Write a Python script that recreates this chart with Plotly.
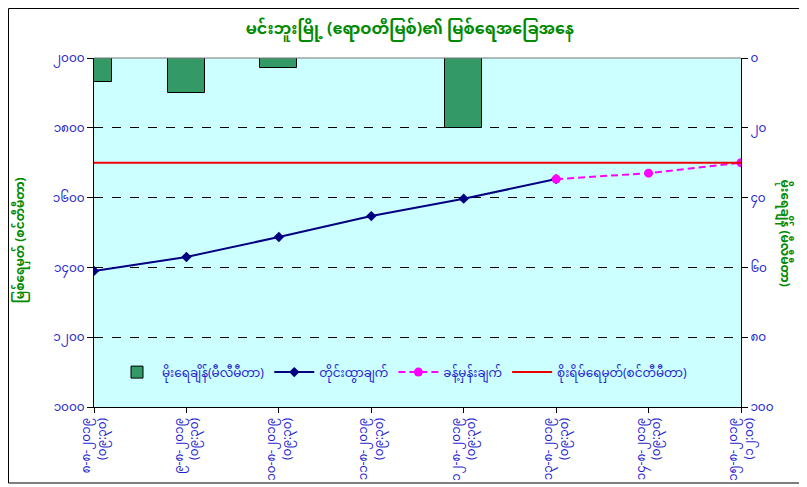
import plotly.graph_objects as go

# ---- data ----
dates = ["၈-၈-၂၀၁၉", "၉-၈-၂၀၁၉", "၁၀-၈-၂၀၁၉", "၁၁-၈-၂၀၁၉",
         "၁၂-၈-၂၀၁၉", "၁၃-၈-၂၀၁၉", "၁၄-၈-၂၀၁၉", "၁၅-၈-၂၀၁၉"]
times = ["(၀၉:၃၀)", "(၀၉:၃၀)", "(၀၉:၃၀)", "(၀၉:၃၀)",
         "(၀၉:၃၀)", "(၀၉:၃၀)", "(၀၉:၃၀)", "(၁၂:၀၀)"]
rainfall_mm = [7, 10, 3, 0, 20, 0, 0, 0]
observed_cm = [1390, 1430, 1487, 1547, 1597, 1653, None, None]
forecast_cm = [None, None, None, None, None, 1653, 1670, 1700]
danger_cm = 1700

left_ticks = [1000, 1200, 1400, 1600, 1800, 2000]
left_ticktext = ["၁၀၀၀", "၁၂၀၀", "၁၄၀၀", "၁၆၀၀", "၁၈၀၀", "၂၀၀၀"]
right_ticks = [0, 20, 40, 60, 80, 100]
right_ticktext = ["၀", "၂၀", "၄၀", "၆၀", "၈၀", "၁၀၀"]

title = "မင်းဘူးမြို့ (ဧရာဝတီမြစ်)၏ မြစ်ရေအခြေအနေ"
left_title = "မြစ်ရေမှတ် (စင်တီမီတာ)"
right_title = "မိုးရေချိန် (မီလီမီတာ)"
legend_names = ["မိုးရေချိန်(မီလီမီတာ)", "တိုင်းထွာချက်", "ခန့်မှန်းချက်",
                "စိုးရိမ်ရေမှတ်(စင်တီမီတာ)"]

x = list(range(len(dates)))
xlabels = [d + "<br>" + t for d, t in zip(dates, times)]

FONT = "Noto Sans Myanmar, Padauk, Myanmar Text, Noto Sans, sans-serif"
BLUE = "#1f1fd1"
GREEN = "#008a00"

fig = go.Figure()
fig.add_trace(go.Bar(
    x=x, y=rainfall_mm, yaxis="y2", name=legend_names[0], width=0.4,
    marker=dict(color="#339966", line=dict(color="black", width=1)),
))
fig.add_trace(go.Scatter(
    x=x, y=observed_cm, name=legend_names[1], mode="lines+markers",
    line=dict(color="#000080", width=2),
    marker=dict(symbol="diamond", size=8, color="#000080"),
))
fig.add_trace(go.Scatter(
    x=x, y=forecast_cm, name=legend_names[2], mode="lines+markers",
    line=dict(color="#ff00ff", width=2, dash="7px,4px"),
    marker=dict(symbol="circle", size=9, color="#ff00ff"),
))
fig.add_trace(go.Scatter(
    x=x, y=[danger_cm] * len(x), name=legend_names[3], mode="lines",
    line=dict(color="#ee0000", width=2),
))

W, H = 799, 479
L, T = 86, 50
PW, PH = 647, 349

def px(xp):  # figure pixel -> paper x
    return (xp - L) / PW

def py(yp):  # figure pixel -> paper y
    return (T + PH - yp) / PH

fig.update_layout(
    width=W, height=H,
    margin=dict(l=L, r=W - L - PW, t=T, b=H - T - PH, autoexpand=False),
    paper_bgcolor="white", plot_bgcolor="#ccffff",
    font=dict(family=FONT, color=BLUE, size=12),
    title=dict(text="<b>" + title + "</b>", x=0.503, xanchor="center",
               y=1 - 20 / H, yanchor="middle",
               font=dict(size=16, color=GREEN, family=FONT)),
    showlegend=True,
    legend=dict(orientation="h", x=px(104), y=0.1, xanchor="left", yanchor="middle",
                bgcolor="rgba(0,0,0,0)", font=dict(size=12, color=BLUE),
                traceorder="normal", itemwidth=40),
    bargap=0,
    xaxis=dict(range=[0, 7], tickvals=x, ticktext=xlabels, tickangle=-90,
               automargin=False,
               showgrid=False, zeroline=False, showline=True, linecolor="black",
               linewidth=1, ticks="outside", ticklen=5, tickcolor="black",
               tickfont=dict(size=12, color=BLUE)),
    yaxis=dict(range=[1000, 2000], tickvals=left_ticks, ticktext=left_ticktext,
               automargin=False,
               showgrid=True, gridcolor="black", griddash="dash", gridwidth=1,
               zeroline=False, showline=True, linecolor="black", linewidth=1,
               ticks="outside", ticklen=6, tickcolor="black",
               tickfont=dict(size=12, color=BLUE)),
    yaxis2=dict(range=[100, 0], overlaying="y", side="right",
                tickvals=right_ticks, ticktext=right_ticktext, automargin=False,
                showgrid=False, zeroline=False, showline=True, linecolor="black",
                linewidth=1, ticks="outside", ticklen=6, tickcolor="black",
                tickfont=dict(size=12, color=BLUE)),
    annotations=[
        dict(text="<b>" + left_title + "</b>", xref="paper", yref="paper",
             x=px(13), y=0.478, xanchor="center", yanchor="middle",
             showarrow=False, textangle=-90,
             font=dict(size=12, color=GREEN)),
        dict(text="<b>" + right_title + "</b>", xref="paper", yref="paper",
             x=px(776), y=0.5, xanchor="center", yanchor="middle",
             showarrow=False, textangle=90,
             font=dict(size=12, color=GREEN)),
    ],
    shapes=[
        dict(type="line", xref="paper", yref="paper", x0=0, x1=1, y0=1, y1=1,
             line=dict(color="#777777", width=1)),
        dict(type="rect", xref="paper", yref="paper",
             x0=px(0.5), x1=px(792), y0=py(475), y1=py(0.5),
             line=dict(color="black", width=1)),
    ],
)

fig.write_html("out.html")
